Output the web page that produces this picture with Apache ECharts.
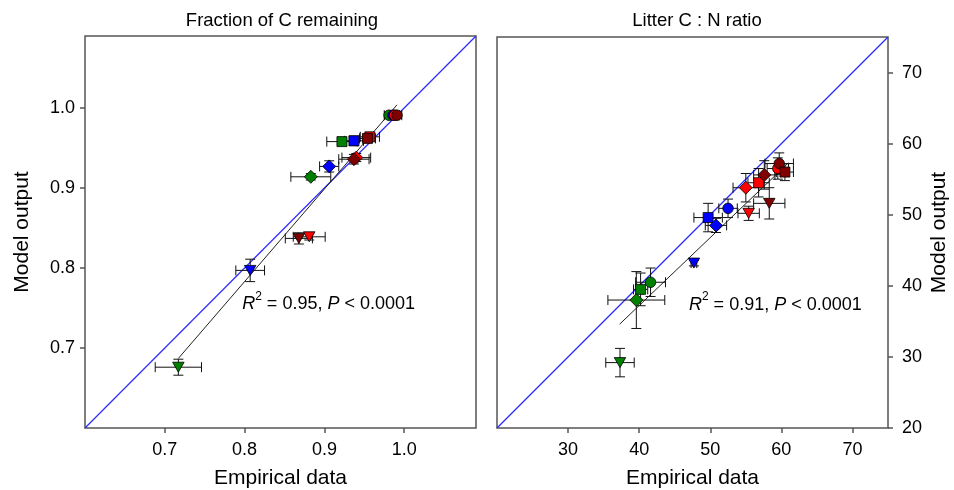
<!DOCTYPE html>
<html><head><meta charset="utf-8">
<script src="https://cdn.jsdelivr.net/npm/echarts@6/dist/echarts.min.js"></script>
<style>html,body{margin:0;padding:0;background:#fff}#c{width:954px;height:490px}</style>
</head><body><div id="c"></div>
<script>
// ---- shared ----
const groupColors = ['#008000', '#0000ff', '#ff0000', '#800000'];
const shapeOrder = ['circle', 'square', 'diamond', 'triangle'];

// ---- Left panel: Fraction of C remaining (order: circle, square, diamond, triangle) ----
const fracGreenX = [0.981, 0.922, 0.883, 0.717];
const fracGreenY = [0.991, 0.958, 0.914, 0.676];
const fracGreenXe = [0.006, 0.019, 0.025, 0.029];
const fracGreenYe = [0.004, 0.004, 0.004, 0.010];
const fracBlueX = [0.986, 0.937, 0.906, 0.807];
const fracBlueY = [0.991, 0.959, 0.927, 0.797];
const fracBlueXe = [0.005, 0.012, 0.012, 0.018];
const fracBlueYe = [0.004, 0.006, 0.007, 0.014];
const fracRedX = [0.988, 0.957, 0.940, 0.881];
const fracRedY = [0.991, 0.964, 0.938, 0.839];
const fracRedXe = [0.006, 0.012, 0.018, 0.020];
const fracRedYe = [0.004, 0.005, 0.005, 0.004];
const fracDarkX = [0.991, 0.954, 0.937, 0.868];
const fracDarkY = [0.991, 0.962, 0.936, 0.837];
const fracDarkXe = [0.006, 0.010, 0.019, 0.017];
const fracDarkYe = [0.004, 0.004, 0.006, 0.007];
const fracFitX = [0.717, 0.991];
const fracFitY = [0.687, 1.004];
const fracTicks = [0.7, 0.8, 0.9, 1.0];
const fracMin = 0.6, fracMax = 1.09;

// ---- Right panel: Litter C:N ratio ----
const cnGreenX = [41.6, 40.2, 39.6, 37.3];
const cnGreenY = [40.5, 39.5, 38.0, 29.2];
const cnGreenXe = [2.1, 1.0, 4.0, 2.0];
const cnGreenYe = [2.0, 2.3, 4.0, 2.0];
const cnBlueX = [52.5, 49.7, 50.8, 47.7];
const cnBlueY = [50.9, 49.6, 48.5, 43.2];
const cnBlueXe = [1.3, 2.0, 1.5, 0.4];
const cnBlueYe = [1.3, 2.0, 1.0, 0.4];
const cnRedX = [59.5, 56.8, 55.0, 55.4];
const cnRedY = [56.5, 54.5, 53.8, 50.2];
const cnRedXe = [1.5, 1.5, 1.8, 1.5];
const cnRedYe = [1.5, 2.0, 2.0, 1.0];
const cnDarkX = [59.7, 60.5, 57.6, 58.3];
const cnDarkY = [57.2, 56.0, 55.6, 51.6];
const cnDarkXe = [2.0, 1.2, 1.5, 2.2];
const cnDarkYe = [1.5, 1.2, 2.0, 2.2];
const cnFitX = [37.25, 61.0];
const cnFitY = [34.6, 57.3];
const cnXTicks = [30, 40, 50, 60, 70];
const cnYTicks = [20, 30, 40, 50, 60, 70];
const cnMin = 20, cnMax = 75;

const fracGroups = [
  [fracGreenX, fracGreenY, fracGreenXe, fracGreenYe],
  [fracBlueX, fracBlueY, fracBlueXe, fracBlueYe],
  [fracRedX, fracRedY, fracRedXe, fracRedYe],
  [fracDarkX, fracDarkY, fracDarkXe, fracDarkYe]
];
const cnGroups = [
  [cnGreenX, cnGreenY, cnGreenXe, cnGreenYe],
  [cnBlueX, cnBlueY, cnBlueXe, cnBlueYe],
  [cnRedX, cnRedY, cnRedXe, cnRedYe],
  [cnDarkX, cnDarkY, cnDarkXe, cnDarkYe]
];

const symbolFor = {
  circle: 'circle',
  square: 'rect',
  diamond: 'diamond',
  triangle: 'path://M0,0L10,0L5,8.6Z'
};
const sizeFor = { circle: 10.5, square: 10, diamond: 13, triangle: [11.5, 10] };

function errRender(params, api) {
  const x = api.value(0), y = api.value(1), dx = api.value(2), dy = api.value(3);
  const l = api.coord([x - dx, y]), r = api.coord([x + dx, y]);
  const t = api.coord([x, y + dy]), b = api.coord([x, y - dy]);
  const h = 5;
  const style = { stroke: '#111', lineWidth: 1 };
  return {
    type: 'group', children: [
      { type: 'line', shape: { x1: l[0], y1: l[1], x2: r[0], y2: r[1] }, style },
      { type: 'line', shape: { x1: l[0], y1: l[1] - h, x2: l[0], y2: l[1] + h }, style },
      { type: 'line', shape: { x1: r[0], y1: r[1] - h, x2: r[0], y2: r[1] + h }, style },
      { type: 'line', shape: { x1: t[0], y1: t[1], x2: b[0], y2: b[1] }, style },
      { type: 'line', shape: { x1: t[0] - h, y1: t[1], x2: t[0] + h, y2: t[1] }, style },
      { type: 'line', shape: { x1: b[0] - h, y1: b[1], x2: b[0] + h, y2: b[1] }, style }
    ]
  };
}

function panelSeries(groups, idx, fitX, fitY, lo, hi) {
  const out = [];
  const errData = [];
  groups.forEach(g => g[0].forEach((x, i) => errData.push([x, g[1][i], g[2][i], g[3][i]])));
  out.push({ type: 'line', xAxisIndex: idx, yAxisIndex: idx, data: [[lo, lo], [hi, hi]], symbol: 'none',
    lineStyle: { color: '#2a2aff', width: 1.2 }, z: 1, silent: true, animation: false });
  out.push({ type: 'line', xAxisIndex: idx, yAxisIndex: idx, data: [[fitX[0], fitY[0]], [fitX[1], fitY[1]]], symbol: 'none',
    lineStyle: { color: '#222', width: 1 }, z: 2, silent: true, animation: false });
  out.push({ type: 'custom', xAxisIndex: idx, yAxisIndex: idx, data: errData, renderItem: errRender,
    encode: { x: 0, y: 1 }, z: 3, animation: false, clip: false });
  groups.forEach((g, gi) => {
    out.push({
      type: 'scatter', xAxisIndex: idx, yAxisIndex: idx, z: 4, animation: false,
      data: g[0].map((x, i) => ({
        value: [x, g[1][i]],
        symbol: symbolFor[shapeOrder[i]],
        symbolSize: sizeFor[shapeOrder[i]]
      })),
      itemStyle: { color: groupColors[gi], borderColor: '#000', borderWidth: 0.8, opacity: 1 }
    });
  });
  return out;
}

const frameColor = '#555';
const FF = 'Liberation Sans, Arial, sans-serif';
const labelFont = { fontFamily: FF, fontSize: 18, color: '#000' };
const nameFont = { fontFamily: FF, fontSize: 21, color: '#000' };

function axisCommon(min, max, ticks, fmt) {
  return {
    type: 'value', min, max,
    splitLine: { show: false },
    axisLine: { show: false },
    axisTick: { show: true, inside: false, length: 5, customValues: ticks, lineStyle: { color: frameColor, width: 1.5 } },
    axisLabel: Object.assign({ customValues: ticks, formatter: fmt }, labelFont)
  };
}

const chart = echarts.init(document.getElementById('c'), null, { renderer: 'canvas' });
const titleStyle = { fontFamily: FF, fontSize: 18.5, fontWeight: 'normal', color: '#000' };
const option = {
  animation: false,
  backgroundColor: '#fff',
  title: [
    { text: 'Fraction of C remaining', left: 277, top: 6, textAlign: 'center', textStyle: titleStyle },
    { text: 'Litter C : N ratio', left: 692, top: 6, textAlign: 'center', textStyle: titleStyle }
  ],
  grid: [
    { left: 85, top: 36, width: 391, height: 392, outerBoundsMode: 'none', containLabel: false,
      show: true, borderColor: frameColor, borderWidth: 1.5, backgroundColor: 'transparent' },
    { left: 497, top: 37, width: 391, height: 391, outerBoundsMode: 'none', containLabel: false,
      show: true, borderColor: frameColor, borderWidth: 1.5, backgroundColor: 'transparent' }
  ],
  xAxis: [
    Object.assign(axisCommon(fracMin, fracMax, fracTicks, v => v.toFixed(1)), {
      gridIndex: 0, position: 'bottom', name: 'Empirical data', nameLocation: 'middle', nameGap: 40, nameTextStyle: nameFont }),
    Object.assign(axisCommon(cnMin, cnMax, cnXTicks, v => String(v)), {
      gridIndex: 1, position: 'bottom', name: 'Empirical data', nameLocation: 'middle', nameGap: 40, nameTextStyle: nameFont })
  ],
  yAxis: [
    Object.assign(axisCommon(fracMin, fracMax, fracTicks, v => v.toFixed(1)), {
      gridIndex: 0, position: 'left', name: 'Model output', nameLocation: 'middle', nameGap: 52, nameTextStyle: nameFont }),
    Object.assign(axisCommon(cnMin, cnMax, cnYTicks, v => String(v)), {
      gridIndex: 1, position: 'right', name: 'Model output', nameLocation: 'middle', nameGap: 41, nameTextStyle: nameFont })
  ],
  series: [].concat(
    panelSeries(fracGroups, 0, fracFitX, fracFitY, fracMin, fracMax),
    panelSeries(cnGroups, 1, cnFitX, cnFitY, cnMin, cnMax)
  )
};
option.xAxis.forEach(a => { a.axisLabel.margin = 13; });
option.yAxis[0].axisLabel.margin = 10;
option.yAxis[1].axisLabel.margin = 14;
chart.setOption(option);

// R² annotations, anchored via the axes
function statText(gridIndex, at, r2) {
  const p = chart.convertToPixel({ gridIndex }, at);
  return {
    type: 'text', left: p[0], top: p[1] - 12, z: 10,
    style: {
      text: '{i|R}{s|2}{n| = ' + r2 + ', }{i|P}{n| < 0.0001}',
      rich: {
        i: { fontFamily: FF, fontSize: 18, fontStyle: 'italic', color: '#000', verticalAlign: 'bottom', lineHeight: 23 },
        n: { fontFamily: FF, fontSize: 18, color: '#000', verticalAlign: 'bottom', lineHeight: 23 },
        s: { fontFamily: FF, fontSize: 12, color: '#000', verticalAlign: 'top', lineHeight: 23 }
      }
    }
  };
}
chart.setOption({ graphic: [statText(0, [0.797, 0.757], '0.95'), statText(1, [47.0, 37.6], '0.91')] });
</script></body></html>
